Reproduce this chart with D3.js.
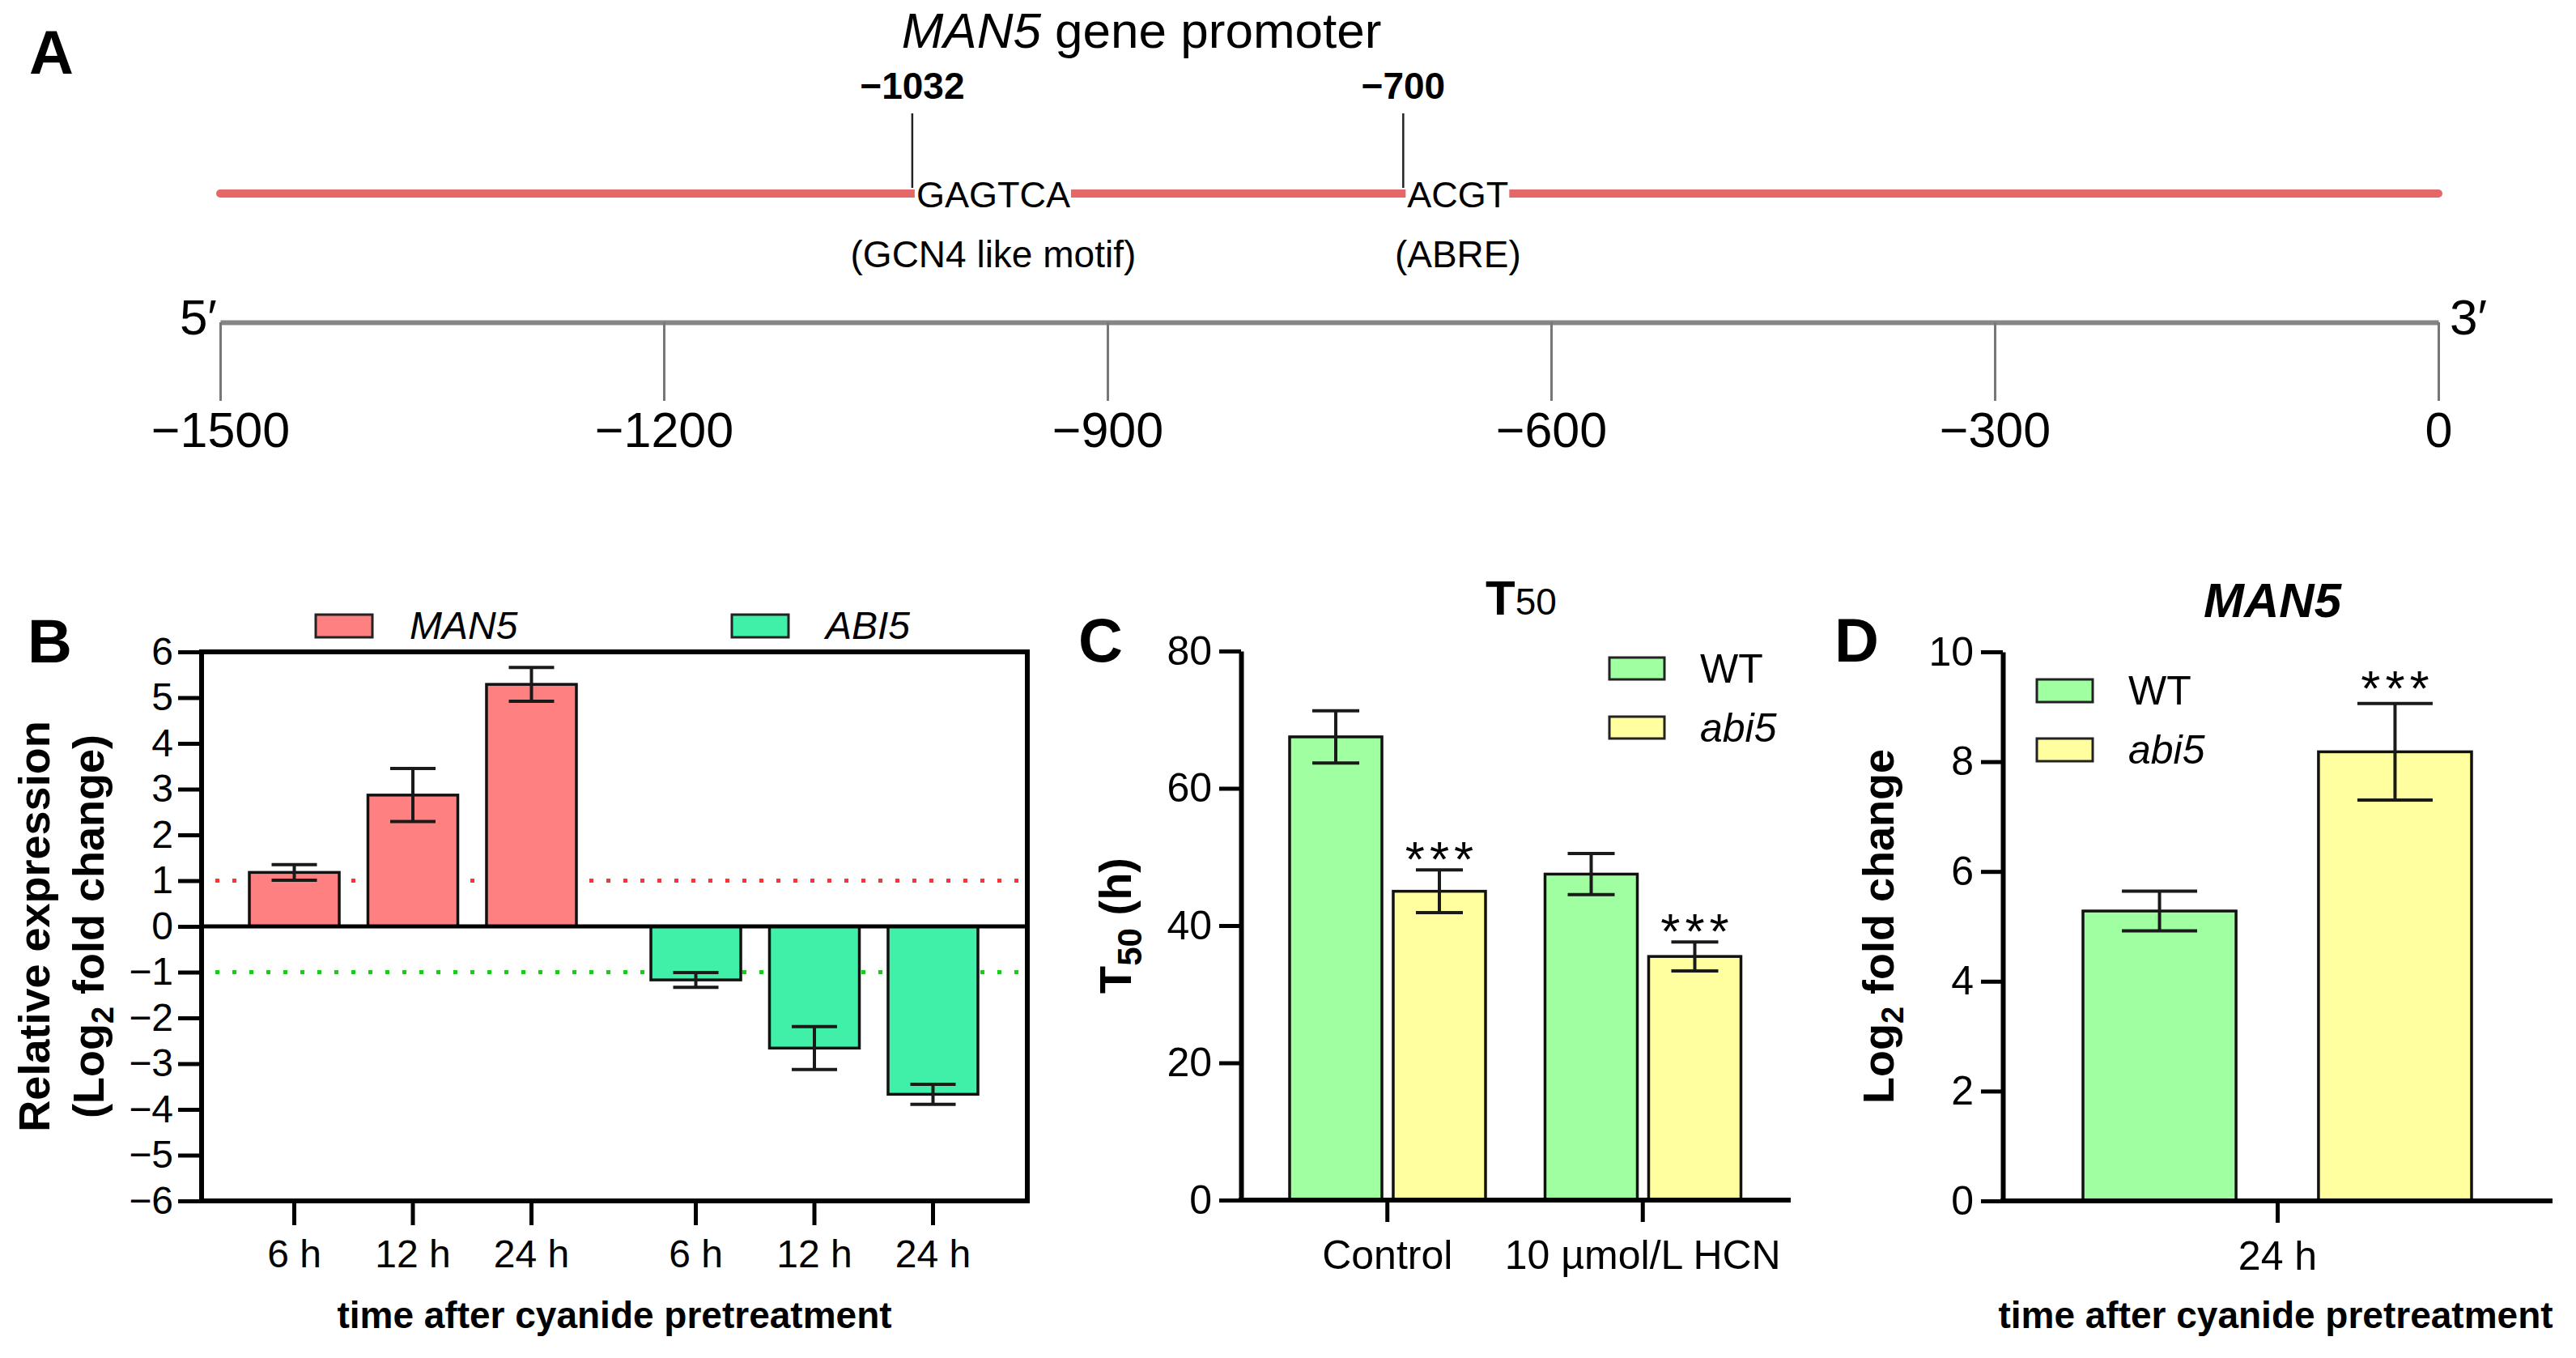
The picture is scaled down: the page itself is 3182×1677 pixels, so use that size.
<!DOCTYPE html>
<html>
<head>
<meta charset="utf-8">
<script src="https://cdn.jsdelivr.net/npm/d3@7"></script>
<style>
body{margin:0;background:#fff;}
svg{display:block;font-family:"Liberation Sans",Arial,sans-serif;}
</style>
</head>
<body>
<svg id="fig" width="3182" height="1677"></svg>
<script>
// ---- panel A : promoter map
var promoterTicks = [-1500,-1200,-900,-600,-300,0];
var motifPos = [-1032,-700];
var motifSeq = ["GAGTCA","ACGT"];
var motifName = ["(GCN4 like motif)","(ABRE)"];

// ---- panel B : relative expression
var genes = ["MAN5","ABI5"];
var times = ["6 h","12 h","24 h"];
var man5Expr = [1.18,2.87,5.29];
var man5Err = [0.17,0.58,0.37];
var abi5Expr = [-1.17,-2.66,-3.67];
var abi5Err = [0.16,0.47,0.22];
var bTicks = [-6,-5,-4,-3,-2,-1,0,1,2,3,4,5,6];

// ---- panel C : T50
var treatments = ["Control","10 µmol/L HCN"];
var genotypes = ["WT","abi5"];
var wtT50 = [67.5,47.5];
var wtT50Err = [3.8,3.0];
var abiT50 = [45.0,35.5];
var abiT50Err = [3.1,2.1];
var abiT50Sig = ["***","***"];
var cTicks = [0,20,40,60,80];

// ---- panel D : MAN5 in WT / abi5
var dTime = ["24 h"];
var dFold = [5.28,8.18];
var dFoldErr = [0.36,0.88];
var dSig = ["","***"];
var dTicks = [0,2,4,6,8,10];

var colMan5 = "#ff8080", colAbi5 = "#40f0a8";
var colWT = "#a0ffa0", colMut = "#ffffa0";

var svg = d3.select("#fig");
svg.append("rect").attr("width",3182).attr("height",1677).attr("fill","#fff");

var panelLetter = function(txt,x,y)
{
    svg.append("text").attr("x",x).attr("y",y)
    .attr("font-size",76).attr("font-weight","bold").text(txt);
}

var styleAxis = function(g,fs,w)
{
    g.selectAll("text").attr("font-size",fs).attr("fill","#000")
    .attr("font-family","'Liberation Sans',Arial,sans-serif");
    g.selectAll("line").attr("stroke","#000").attr("stroke-width",w);
    g.select(".domain").attr("stroke","#000").attr("stroke-width",w+1);
}

var errBars = function(g,data,y,capW)
{
    var e = g.selectAll("g.err").data(data).enter().append("g").attr("class","err")
    .attr("stroke","#1a1a1a").attr("stroke-width",4);
    e.append("line").attr("x1",function(d){return d.x;}).attr("x2",function(d){return d.x;})
    .attr("y1",function(d){return y(d.v-d.e);}).attr("y2",function(d){return y(d.v+d.e);});
    e.append("line").attr("x1",function(d){return d.x-capW/2;}).attr("x2",function(d){return d.x+capW/2;})
    .attr("y1",function(d){return y(d.v+d.e);}).attr("y2",function(d){return y(d.v+d.e);});
    e.append("line").attr("x1",function(d){return d.x-capW/2;}).attr("x2",function(d){return d.x+capW/2;})
    .attr("y1",function(d){return y(d.v-d.e);}).attr("y2",function(d){return y(d.v-d.e);});
}

var stars = function(g,data,y,off)
{
    g.selectAll("text.sig").data(data.filter(function(d){return d.s;})).enter()
    .append("text").attr("class","sig")
    .attr("x",function(d){return d.x+3;})
    .attr("y",function(d){return y(d.v+d.e)+off;})
    .attr("text-anchor","middle").attr("font-size",62).attr("letter-spacing",6)
    .text(function(d){return d.s;});
}

// =================== A ===================
panelLetter("A",36,91);
var title = svg.append("text").attr("x",1410).attr("y",59).attr("text-anchor","middle").attr("font-size",62);
title.append("tspan").attr("font-style","italic").text("MAN5");
title.append("tspan").text(" gene promoter");

var xA = d3.scaleLinear().domain([-1500,0]).range([272,3012]);

svg.append("line").attr("x1",xA(-1500)).attr("x2",xA(0)).attr("y1",239).attr("y2",239)
.attr("stroke","#e46868").attr("stroke-width",10).attr("stroke-linecap","round");

var motifs = motifPos.map(function(p,i){return {p:p,seq:motifSeq[i],name:motifName[i]};});
var fmt = d3.format("d");
motifs.forEach(function(m)
{
    var x = xA(m.p);
    var gap = svg.append("rect").attr("fill","#fff");
    var t = svg.append("text").attr("x",x+5).attr("y",256).attr("font-size",45).text(m.seq);
    var bb = t.node().getBBox();
    gap.attr("x",bb.x-2).attr("y",225).attr("width",bb.width+3).attr("height",28);
    svg.append("line").attr("x1",x).attr("x2",x).attr("y1",140).attr("y2",232)
    .attr("stroke","#222").attr("stroke-width",2.5);
    svg.append("text").attr("x",x).attr("y",122).attr("text-anchor","middle")
    .attr("font-size",46).attr("font-weight","bold").text(fmt(m.p));
    svg.append("text").attr("x",bb.x+bb.width/2).attr("y",330).attr("text-anchor","middle")
    .attr("font-size",46).text(m.name);
});

var axA = svg.append("g").attr("transform","translate(0,398)")
.call(d3.axisBottom(xA).tickValues(promoterTicks).tickSize(97).tickSizeOuter(0).tickPadding(14).tickFormat(fmt));
axA.selectAll("text").attr("font-size",61).attr("fill","#000");
axA.selectAll(".tick line").attr("stroke","#777").attr("stroke-width",3);
axA.select(".domain").attr("stroke","#858585").attr("stroke-width",6);
svg.append("text").attr("x",268).attr("y",413).attr("text-anchor","end").attr("font-size",62).text("5′");
svg.append("text").attr("x",3026).attr("y",413).attr("font-size",62).text("3′");

// =================== B ===================
panelLetter("B",34,818);
var bL = 249, bR = 1269, bT = 805, bB = 1483;
var yB = d3.scaleLinear().domain([-6,6]).range([bB,bT]);
var xGene = d3.scaleBand().domain(genes).range([264,1256]);
var xTime = d3.scaleBand().domain(times).range([44,448]).paddingInner(0.242);
var gB = svg.append("g");

var bData = [];
times.forEach(function(t,i){bData.push({g:"MAN5",t:t,v:man5Expr[i],e:man5Err[i]});});
times.forEach(function(t,i){bData.push({g:"ABI5",t:t,v:abi5Expr[i],e:abi5Err[i]});});
bData.forEach(function(d){d.x = xGene(d.g)+xTime(d.t)+xTime.bandwidth()/2;});

// threshold dots
gB.append("line").attr("x1",266).attr("x2",bR-4).attr("y1",yB(1)).attr("y2",yB(1))
.attr("stroke","#ff3333").attr("stroke-width",5).attr("stroke-dasharray","5 16");
gB.append("line").attr("x1",266).attr("x2",bR-4).attr("y1",yB(-1)).attr("y2",yB(-1))
.attr("stroke","#1ec81e").attr("stroke-width",5).attr("stroke-dasharray","5 16");

gB.selectAll("rect.bar").data(bData).enter().append("rect").attr("class","bar")
.attr("x",function(d){return d.x-xTime.bandwidth()/2;})
.attr("width",xTime.bandwidth())
.attr("y",function(d){return Math.min(yB(d.v),yB(0));})
.attr("height",function(d){return Math.abs(yB(d.v)-yB(0));})
.attr("fill",function(d){return d.g=="MAN5"?colMan5:colAbi5;})
.attr("stroke","#111").attr("stroke-width",3.5);

gB.append("line").attr("x1",bL).attr("x2",bR).attr("y1",yB(0)).attr("y2",yB(0))
.attr("stroke","#000").attr("stroke-width",5);
gB.append("rect").attr("x",bL).attr("y",bT).attr("width",bR-bL).attr("height",bB-bT)
.attr("fill","none").attr("stroke","#000").attr("stroke-width",6);
errBars(gB,bData,yB,56);

var axBy = svg.append("g").attr("transform","translate("+bL+",0)")
.call(d3.axisLeft(yB).tickValues(bTicks).tickSize(29).tickPadding(6));
styleAxis(axBy,48,5);
axBy.select(".domain").remove();

var bx = gB.selectAll("g.xt").data(bData).enter().append("g").attr("class","xt");
bx.append("line").attr("x1",function(d){return d.x;}).attr("x2",function(d){return d.x;})
.attr("y1",bB).attr("y2",bB+30).attr("stroke","#000").attr("stroke-width",5);
bx.append("text").attr("x",function(d){return d.x;}).attr("y",1565).attr("text-anchor","middle")
.attr("font-size",48).text(function(d){return d.t;});

svg.append("text").attr("x",759).attr("y",1640).attr("text-anchor","middle")
.attr("font-size",46).attr("font-weight","bold").text("time after cyanide pretreatment");

svg.append("text").attr("transform","translate(61,1144) rotate(-90)").attr("text-anchor","middle")
.attr("font-size",54).attr("font-weight","bold").text("Relative expression");
var yt = svg.append("text").attr("transform","translate(128,1144) rotate(-90)").attr("text-anchor","middle")
.attr("font-size",54).attr("font-weight","bold");
yt.append("tspan").text("(Log");
yt.append("tspan").attr("font-size",38).attr("dy",12).text("2");
yt.append("tspan").attr("dy",-12).text(" fold change)");

// legend B
var legB = [{n:"MAN5",x:390,c:colMan5},{n:"ABI5",x:904,c:colAbi5}];
legB.forEach(function(l)
{
    svg.append("rect").attr("x",l.x).attr("y",759).attr("width",70).attr("height",28)
    .attr("fill",l.c).attr("stroke","#222").attr("stroke-width",3);
    svg.append("text").attr("x",l.x+116).attr("y",789).attr("font-size",48)
    .attr("font-style","italic").text(l.n);
});

// =================== C ===================
panelLetter("C",1332,817);
var cL = 1533, cR = 2212, cB = 1482, cT = 804;
var yC = d3.scaleLinear().domain([0,80]).range([cB,cT]);
var xC = d3.scaleBand().domain(treatments).range([1556,2187]);
var xCg = d3.scaleBand().domain(genotypes).range([37,279]).paddingInner(0.109);
var gC = svg.append("g");
var cData = [];
treatments.forEach(function(t,i)
{
    cData.push({t:t,k:"WT",v:wtT50[i],e:wtT50Err[i],s:""});
    cData.push({t:t,k:"abi5",v:abiT50[i],e:abiT50Err[i],s:abiT50Sig[i]});
});
cData.forEach(function(d){d.x = xC(d.t)+xCg(d.k)+xCg.bandwidth()/2;});

gC.selectAll("rect.bar").data(cData).enter().append("rect").attr("class","bar")
.attr("x",function(d){return d.x-xCg.bandwidth()/2;})
.attr("width",xCg.bandwidth())
.attr("y",function(d){return yC(d.v);})
.attr("height",function(d){return yC(0)-yC(d.v);})
.attr("fill",function(d){return d.k=="WT"?colWT:colMut;})
.attr("stroke","#111").attr("stroke-width",3.5);
errBars(gC,cData,yC,58);
stars(gC,cData,yC,8);

var axCy = svg.append("g").attr("transform","translate("+cL+",0)")
.call(d3.axisLeft(yC).tickValues(cTicks).tickSize(27).tickSizeOuter(0).tickPadding(9));
styleAxis(axCy,50,5);
var axCx = svg.append("g").attr("transform","translate(0,"+cB+")")
.call(d3.axisBottom(xC).tickSize(27).tickSizeOuter(0).tickPadding(22));
styleAxis(axCx,50,5);
axCx.select(".domain").remove();
svg.append("line").attr("x1",cL-3).attr("x2",cR).attr("y1",cB).attr("y2",cB)
.attr("stroke","#000").attr("stroke-width",6);

var tC = svg.append("text").attr("x",1879).attr("y",759).attr("text-anchor","middle");
tC.append("tspan").attr("font-size",60).attr("font-weight","bold").text("T");
tC.append("tspan").attr("font-size",46).text("50");

var ytC = svg.append("text").attr("transform","translate(1397,1143) rotate(-90)").attr("text-anchor","middle")
.attr("font-size",56).attr("font-weight","bold");
ytC.append("tspan").text("T");
ytC.append("tspan").attr("font-size",42).attr("dy",13).text("50");
ytC.append("tspan").attr("dy",-13).text(" (h)");

var legC = [{n:"WT",y:812,c:colWT,it:false},{n:"abi5",y:885,c:colMut,it:true}];
legC.forEach(function(l)
{
    svg.append("rect").attr("x",1988).attr("y",l.y).attr("width",68).attr("height",27)
    .attr("fill",l.c).attr("stroke","#222").attr("stroke-width",3);
    svg.append("text").attr("x",2100).attr("y",l.y+31).attr("font-size",50)
    .attr("font-style",l.it?"italic":"normal").text(l.n);
});

// =================== D ===================
panelLetter("D",2266,817);
var dL = 2474, dR = 3153, dB = 1483, dT = 805;
var yD = d3.scaleLinear().domain([0,10]).range([dB,dT]);
var xD = d3.scaleBand().domain(genotypes).range([2573,3053]).paddingInner(0.35);
var xDt = d3.scalePoint().domain(dTime).range([2813,2813]);
var gD = svg.append("g");
var dData = genotypes.map(function(k,i){return {k:k,v:dFold[i],e:dFoldErr[i],s:dSig[i]};});
dData.forEach(function(d){d.x = xD(d.k)+xD.bandwidth()/2;});

gD.selectAll("rect.bar").data(dData).enter().append("rect").attr("class","bar")
.attr("x",function(d){return xD(d.k);})
.attr("width",xD.bandwidth())
.attr("y",function(d){return yD(d.v);})
.attr("height",function(d){return yD(0)-yD(d.v);})
.attr("fill",function(d){return d.k=="WT"?colWT:colMut;})
.attr("stroke","#111").attr("stroke-width",3.5);
errBars(gD,dData,yD,93);
stars(gD,dData,yD,2);

var axDy = svg.append("g").attr("transform","translate("+dL+",0)")
.call(d3.axisLeft(yD).tickValues(dTicks).tickSize(27).tickSizeOuter(0).tickPadding(9));
styleAxis(axDy,50,5);
var axDx = svg.append("g").attr("transform","translate(0,"+dB+")")
.call(d3.axisBottom(xDt).tickSize(27).tickSizeOuter(0).tickPadding(22));
styleAxis(axDx,50,5);
axDx.select(".domain").remove();
svg.append("line").attr("x1",dL-3).attr("x2",dR).attr("y1",dB).attr("y2",dB)
.attr("stroke","#000").attr("stroke-width",6);

svg.append("text").attr("x",2807).attr("y",762).attr("text-anchor","middle")
.attr("font-size",60).attr("font-weight","bold").attr("font-style","italic").text("MAN5");

var ytD = svg.append("text").attr("transform","translate(2339,1144) rotate(-90)").attr("text-anchor","middle")
.attr("font-size",54).attr("font-weight","bold");
ytD.append("tspan").text("Log");
ytD.append("tspan").attr("font-size",38).attr("dy",12).text("2");
ytD.append("tspan").attr("dy",-12).text(" fold change");

svg.append("text").attr("x",2811).attr("y",1640).attr("text-anchor","middle")
.attr("font-size",46).attr("font-weight","bold").text("time after cyanide pretreatment");

var legD = [{n:"WT",y:839,c:colWT,it:false},{n:"abi5",y:912,c:colMut,it:true}];
legD.forEach(function(l)
{
    svg.append("rect").attr("x",2516).attr("y",l.y).attr("width",69).attr("height",28)
    .attr("fill",l.c).attr("stroke","#222").attr("stroke-width",3);
    svg.append("text").attr("x",2629).attr("y",l.y+31).attr("font-size",50)
    .attr("font-style",l.it?"italic":"normal").text(l.n);
});
</script>
</body>
</html>
